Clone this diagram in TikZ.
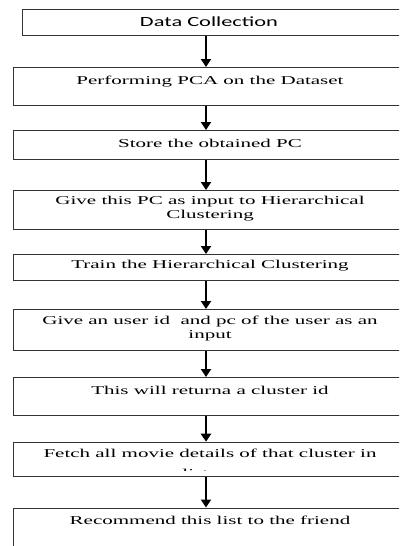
\documentclass[tikz,border=0pt]{standalone}
\usepackage{fontspec}
\setmainfont{Liberation Serif}
\newfontfamily\serifw[FakeStretch=1.75]{Liberation Serif}
\newfontfamily\sansw[FakeStretch=1.6]{Carlito}
\usetikzlibrary{arrows.meta}
\begin{document}
\begin{tikzpicture}[x=1pt,y=-1pt,
  box/.style={draw=black!80, line width=1.2pt, inner sep=0pt, anchor=north west, minimum width=420pt},
  arr/.style={line width=2.3pt, -{Triangle[width=10pt,length=8pt]}},
  txt/.style={inner sep=0pt, align=center, font=\serifw\fontsize{12}{14}\selectfont},
  stxt/.style={inner sep=0pt, align=center, font=\sansw\fontsize{14}{16}\selectfont}]
\useasboundingbox (0,0) rectangle (399,546);
\clip (0,0) rectangle (399,546);
\fill[white] (0,0) rectangle (399,546);
\coordinate (ax) at (206,0);
% boxes
\node[box, minimum height=26pt] (b1) at (22,8.5) {};
\node[box, minimum height=37.5pt] (b2) at (12.5,67) {};
\node[box, minimum height=29pt] (b3) at (12.5,130) {};
\node[box, minimum height=39pt] (b4) at (12.5,190) {};
\node[box, minimum height=26pt] (b5) at (12.5,254) {};
\node[box, minimum height=41pt] (b6) at (12.5,309) {};
\node[box, minimum height=38pt] (b7) at (12.5,377) {};
\node[box, minimum height=33.8pt] (b8) at (12.5,441.7) {};
\node[box, minimum height=60pt] (b9) at (12.5,507.5) {};
% texts
\node[stxt] (t1) at (209,22) {Data Collection};
\node[txt] (t2) at (210,82) {Performing PCA on the Dataset};
\node[txt] (t3) at (210,143) {Store the obtained PC};
\node[txt] (t4) at (210,209) {Give this PC as input to Hierarchical\\Clustering};
\node[txt] (t5) at (210,266) {Train the Hierarchical Clustering};
\node[txt] (t6) at (210,328.5) {Give an user id\ \ and pc of the user as an\\input};
\node[txt] (t7) at (210,390) {This will returna a cluster id};
\node[txt] (t8) at (210,453) {Fetch all movie details of that cluster in};
\begin{scope}
\clip (0,441.7) rectangle (399,470.5);
\node[txt, anchor=base] (t8b) at (188,477) {a list};
\end{scope}
\node[txt] (t9) at (210,520) {Recommend this list to the friend};
% arrows
\draw[arr] (b1.south -| ax) -- (b2.north -| ax);
\draw[arr] (b2.south -| ax) -- (b3.north -| ax);
\draw[arr] (b3.south -| ax) -- (b4.north -| ax);
\draw[arr] (b4.south -| ax) -- (b5.north -| ax);
\draw[arr] (b5.south -| ax) -- (b6.north -| ax);
\draw[arr] (b6.south -| ax) -- (b7.north -| ax);
\draw[arr] (b7.south -| ax) -- (b8.north -| ax);
\draw[arr] (b8.south -| ax) -- (b9.north -| ax);
\end{tikzpicture}
\end{document}
